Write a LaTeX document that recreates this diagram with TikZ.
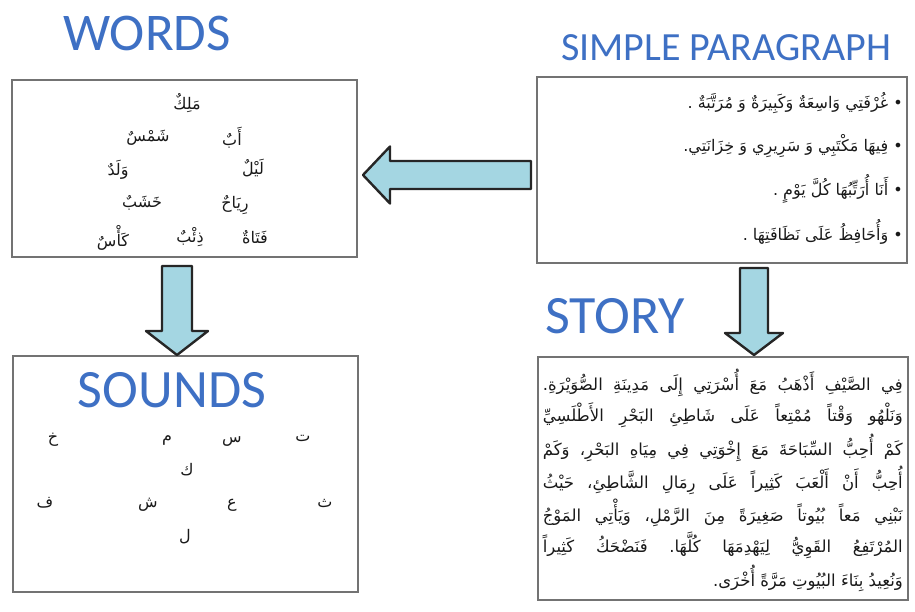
\documentclass[tikz,border=0pt]{standalone}
\usepackage{fontspec}
\setsansfont{Carlito}
\newfontfamily\arabicfont[Script=Arabic]{DejaVu Sans}
\TeXXeTstate=1
\frenchspacing

\definecolor{titleblue}{RGB}{62,112,196}
\definecolor{arrowfill}{RGB}{164,214,226}

\tikzset{
  title/.style={font=\sffamily\fontsize{53}{60}\selectfont, text=titleblue, inner sep=0pt},
  box/.style={draw=black!55, line width=2pt},
  word/.style={font=\arabicfont\fontsize{16}{19}\selectfont, text=black!90, inner sep=0pt},
  bullet/.style={word, anchor=east},
  storyline/.style={word, font=\arabicfont\fontsize{16.5}{19}\selectfont, anchor=east},
  blockarrow/.style={draw=black!85, fill=arrowfill, line width=2.4pt, line join=round}
}

\begin{document}
\begin{tikzpicture}[x=1pt,y=-1pt]
\useasboundingbox (0,0) rectangle (915,612);
% Boxes
\node[box, minimum width=345pt, minimum height=177pt] (words) at (184.5,168.5) {};
\node[box, minimum width=345pt, minimum height=236pt] (sounds) at (185.5,474) {};
\node[box, minimum width=370pt, minimum height=186pt] (para) at (722,170) {};
\node[box, minimum width=370pt, minimum height=243pt] (story) at (723,478.5) {};
% Titles
\node[title] (words-title) at (147,33) {WORDS};
\node[title, font=\sffamily\fontsize{40}{46}\selectfont] (para-title) at (726,48) {SIMPLE PARAGRAPH};
\node[title, font=\sffamily\fontsize{54}{60}\selectfont] (story-title) at (615,316) {STORY};
\node[title, font=\sffamily\fontsize{54}{60}\selectfont] (sounds-title) at (172,390) {SOUNDS};
% Words
\node[word] (w-malik) at (187,103) {\beginR مَلِكٌ\endR};
\node[word] (w-ab) at (232,138) {\beginR أَبٌ\endR};
\node[word] (w-shams) at (148,138) {\beginR شَمْسٌ\endR};
\node[word] (w-layl) at (253,168) {\beginR لَيْلٌ\endR};
\node[word] (w-walad) at (118,170) {\beginR وَلَدٌ\endR};
\node[word] (w-riyah) at (235,205) {\beginR رِيَاحٌ\endR};
\node[word] (w-khashab) at (142,203) {\beginR خَشَبٌ\endR};
\node[word] (w-fatat) at (255,237) {\beginR فَتَاةٌ\endR};
\node[word] (w-dhib) at (190,237) {\beginR ذِئْبٌ\endR};
\node[word] (w-kas) at (113,238) {\beginR كَأْسٌ\endR};
% Sounds
\node[word] (s-kha) at (53,440) {خ};
\node[word] (s-mim) at (167,440) {م};
\node[word] (s-sin) at (232,442) {س};
\node[word] (s-ta) at (303,438) {ت};
\node[word] (s-kaf) at (187,470) {ك};
\node[word] (s-fa) at (45,503) {ف};
\node[word] (s-shin) at (148,505) {ش};
\node[word] (s-ayn) at (232,505) {ع};
\node[word] (s-tha) at (325,503) {ث};
\node[word] (s-lam) at (185,537) {ل};
% Simple paragraph
\node[bullet] (p-1) at (903,103) {\beginR • غُرْفَتِي وَاسِعَةٌ وَكَبِيرَةٌ وَ مُرَتَّبَةٌ .\endR};
\node[bullet] (p-2) at (903,146) {\beginR • فِيهَا مَكْتَبِي وَ سَرِيرِي وَ خِزَانَتِي.\endR};
\node[bullet] (p-3) at (903,189) {\beginR • أَنَا أُرَتِّبُهَا كُلَّ يَوْمٍ .\endR};
\node[bullet] (p-4) at (903,232) {\beginR • وَأُحَافِظُ عَلَى نَظَافَتِهَا .\endR};
% Story
\node[storyline] (st-1) at (903,383) {\makebox[360pt][s]{\beginR فِي الصَّيْفِ أَذْهَبُ مَعَ أُسْرَتِي إِلَى مَدِينَةِ الصُّوَيْرَةِ.\endR}};
\node[storyline] (st-2) at (903,415.5) {\makebox[360pt][s]{\beginR وَنَلْهُو وَقْتاً مُمْتِعاً عَلَى شَاطِئِ البَحْرِ الأَطْلَسِيِّ\endR}};
\node[storyline] (st-3) at (903,448) {\makebox[360pt][s]{\beginR كَمْ أُحِبُّ السِّبَاحَةَ مَعَ إِخْوَتِي فِي مِيَاهِ البَحْرِ، وَكَمْ\endR}};
\node[storyline] (st-4) at (903,480.5) {\makebox[360pt][s]{\beginR أُحِبُّ أَنْ أَلْعَبَ كَثِيراً عَلَى رِمَالِ الشَّاطِئِ، حَيْثُ\endR}};
\node[storyline] (st-5) at (903,513) {\makebox[360pt][s]{\beginR نَبْنِي مَعاً بُيُوتاً صَغِيرَةً مِنَ الرَّمْلِ، وَيَأْتِي المَوْجُ\endR}};
\node[storyline] (st-6) at (903,545.5) {\makebox[360pt][s]{\beginR المُرْتَفِعُ القَوِيُّ لِيَهْدِمَهَا كُلَّهَا. فَنَضْحَكُ كَثِيراً\endR}};
\node[storyline] (st-7) at (903,578) {\beginR وَنُعِيدُ بِنَاءَ البُيُوتِ مَرَّةً أُخْرَى.\endR};
% Arrows
\draw[blockarrow] ([xshift=5pt,yshift=-6.5pt]words.east) -- ++(27,-28.5) -- ++(0,14.5) -- ++(141,0) -- ++(0,28) -- ++(-141,0) -- ++(0,14.5) -- cycle;
\draw[blockarrow] ([xshift=-8.5pt]sounds.north) -- ++(31,-24) -- ++(-16,0) -- ++(0,-65) -- ++(-30,0) -- ++(0,65) -- ++(-16,0) -- cycle;
\draw[blockarrow] ([xshift=31pt,yshift=1pt]story.north) -- ++(29,-22) -- ++(-15,0) -- ++(0,-65) -- ++(-28,0) -- ++(0,65) -- ++(-15,0) -- cycle;
\end{tikzpicture}
\end{document}
